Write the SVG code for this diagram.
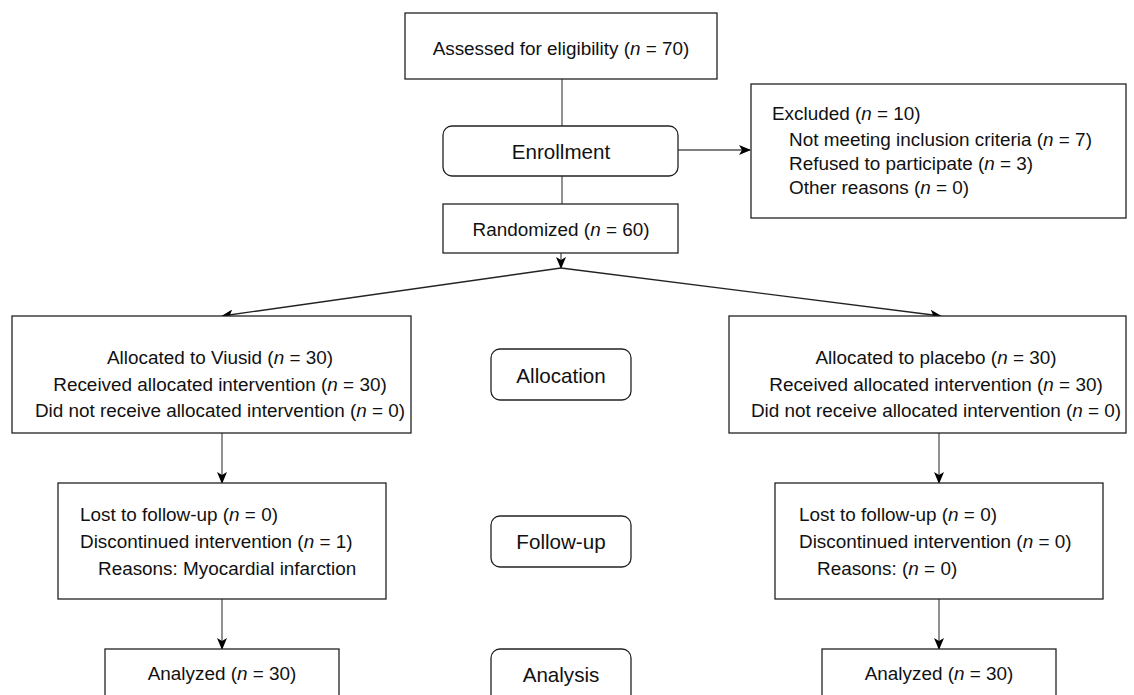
<svg xmlns="http://www.w3.org/2000/svg" width="1134" height="695" viewBox="0 0 1134 695">
<style>
.box{fill:#fff;stroke:#222;stroke-width:1.3}
.stage{fill:#fff;stroke:#222;stroke-width:1.3}
.t{font-family:"Liberation Sans",Arial,sans-serif;font-size:18.9px;fill:#111}
.s{font-family:"Liberation Sans",Arial,sans-serif;font-size:20.6px;fill:#111}
.c{text-anchor:middle}
.i{font-style:italic}
.ln{stroke:#555;stroke-width:1.3;fill:none}
.ar{stroke:#222;stroke-width:1.3;fill:none}
</style>
<defs>
<marker id="ah" markerWidth="12" markerHeight="10" refX="11" refY="5" orient="auto" markerUnits="userSpaceOnUse">
<path d="M0,0 L12,5 L0,10 L3,5 z" fill="#000"/>
</marker>
</defs>
<g id="connectors">
<line class="ln" x1="562" y1="79" x2="562" y2="126"/>
<line class="ln" x1="678" y1="150" x2="750" y2="150" marker-end="url(#ah)"/>
<line class="ln" x1="562" y1="176" x2="562" y2="204"/>
<line class="ln" x1="561" y1="253" x2="561" y2="268" marker-end="url(#ah)"/>
<line class="ar" x1="561" y1="268" x2="222" y2="316" marker-end="url(#ah)"/>
<line class="ar" x1="561" y1="268" x2="941" y2="316" marker-end="url(#ah)"/>
<line class="ln" x1="222" y1="433" x2="222" y2="483" marker-end="url(#ah)"/>
<line class="ln" x1="939" y1="433" x2="939" y2="483" marker-end="url(#ah)"/>
<line class="ln" x1="222" y1="599" x2="222" y2="649" marker-end="url(#ah)"/>
<line class="ln" x1="939" y1="599" x2="939" y2="649" marker-end="url(#ah)"/>
</g>
<g id="assessed">
<rect class="box" x="405" y="13" width="312" height="66"/>
<text class="t c" x="561" y="55">Assessed for eligibility (<tspan class="i">n</tspan> = 70)</text>
</g>
<g id="enrollment">
<rect class="stage" x="443" y="126" width="235" height="50" rx="9"/>
<text class="s c" x="561" y="159">Enrollment</text>
</g>
<g id="excluded">
<rect class="box" x="751" y="84" width="375" height="134"/>
<text class="t" x="772" y="120">Excluded (<tspan class="i">n</tspan> = 10)</text>
<text class="t" x="789" y="146">Not meeting inclusion criteria (<tspan class="i">n</tspan> = 7)</text>
<text class="t" x="789" y="170">Refused to participate (<tspan class="i">n</tspan> = 3)</text>
<text class="t" x="789" y="194">Other reasons (<tspan class="i">n</tspan> = 0)</text>
</g>
<g id="randomized">
<rect class="box" x="443" y="204" width="235" height="49"/>
<text class="t c" x="561" y="236">Randomized (<tspan class="i">n</tspan> = 60)</text>
</g>
<g id="alloc-viusid">
<rect class="box" x="12" y="316" width="399" height="117"/>
<text class="t c" x="220" y="364">Allocated to Viusid (<tspan class="i">n</tspan> = 30)</text>
<text class="t c" x="220" y="391">Received allocated intervention (<tspan class="i">n</tspan> = 30)</text>
<text class="t c" x="220" y="417">Did not receive allocated intervention (<tspan class="i">n</tspan> = 0)</text>
</g>
<g id="allocation">
<rect class="stage" x="491" y="349" width="140" height="51" rx="9"/>
<text class="s c" x="561" y="383">Allocation</text>
</g>
<g id="alloc-placebo">
<rect class="box" x="729" y="316" width="397" height="117"/>
<text class="t c" x="936" y="364">Allocated to placebo (<tspan class="i">n</tspan> = 30)</text>
<text class="t c" x="936" y="391">Received allocated intervention (<tspan class="i">n</tspan> = 30)</text>
<text class="t c" x="936" y="417">Did not receive allocated intervention (<tspan class="i">n</tspan> = 0)</text>
</g>
<g id="followup-viusid">
<rect class="box" x="58" y="483" width="328" height="116"/>
<text class="t" x="80" y="521">Lost to follow-up (<tspan class="i">n</tspan> = 0)</text>
<text class="t" x="80" y="548">Discontinued intervention (<tspan class="i">n</tspan> = 1)</text>
<text class="t" x="98" y="575">Reasons: Myocardial infarction</text>
</g>
<g id="followup">
<rect class="stage" x="491" y="516" width="140" height="51" rx="9"/>
<text class="s c" x="561" y="549">Follow-up</text>
</g>
<g id="followup-placebo">
<rect class="box" x="775" y="483" width="328" height="116"/>
<text class="t" x="799" y="521">Lost to follow-up (<tspan class="i">n</tspan> = 0)</text>
<text class="t" x="799" y="548">Discontinued intervention (<tspan class="i">n</tspan> = 0)</text>
<text class="t" x="817" y="575">Reasons: (<tspan class="i">n</tspan> = 0)</text>
</g>
<g id="analyzed-viusid">
<rect class="box" x="105" y="649" width="234" height="60"/>
<text class="t c" x="222" y="680">Analyzed (<tspan class="i">n</tspan> = 30)</text>
</g>
<g id="analysis">
<rect class="stage" x="491" y="649" width="140" height="60" rx="9"/>
<text class="s c" x="561" y="682">Analysis</text>
</g>
<g id="analyzed-placebo">
<rect class="box" x="822" y="649" width="234" height="60"/>
<text class="t c" x="939" y="680">Analyzed (<tspan class="i">n</tspan> = 30)</text>
</g>
</svg>
